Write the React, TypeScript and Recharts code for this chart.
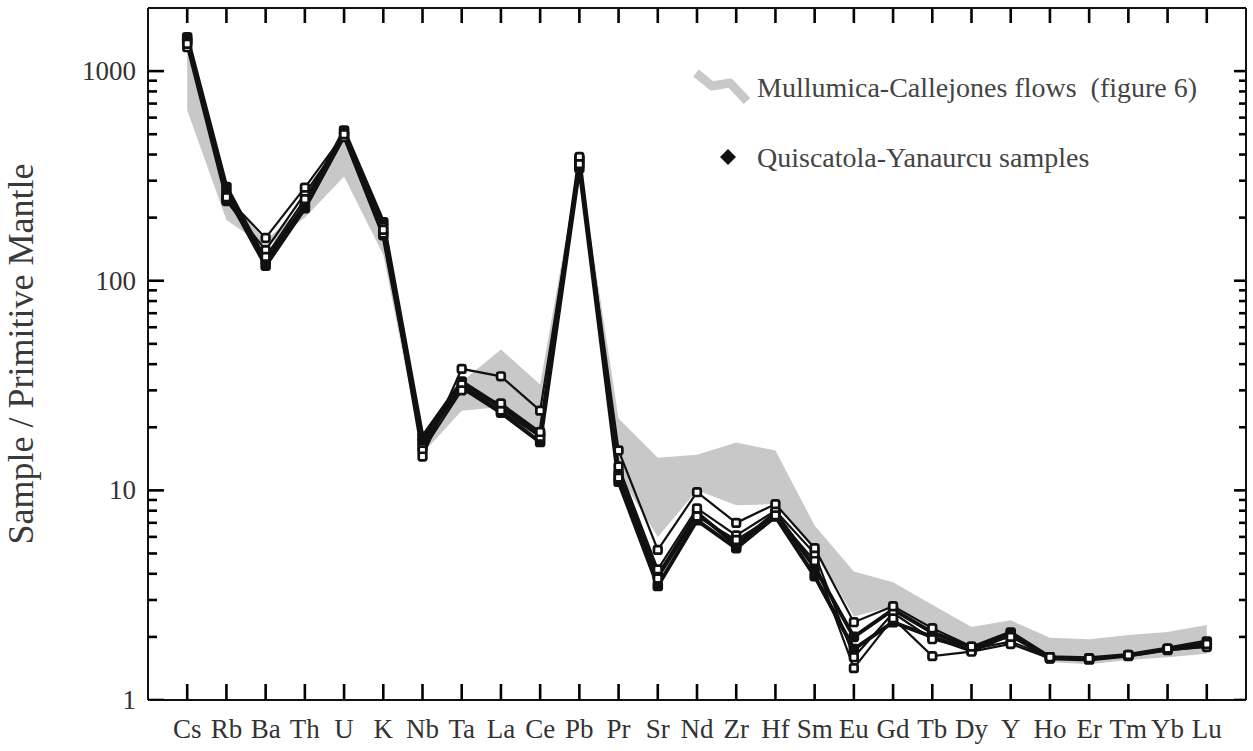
import React from 'react';
import { ComposedChart, Line, Area, Scatter, XAxis, YAxis } from 'recharts';

const elements = ['Cs','Rb','Ba','Th','U','K','Nb','Ta','La','Ce','Pb','Pr','Sr','Nd','Zr','Hf','Sm','Eu','Gd','Tb','Dy','Y','Ho','Er','Tm','Yb','Lu'];

// Mullumica-Callejones flows field (figure 6)
const bandLow  = [650, 195, 145, 200, 314, 133, 15, 24, 25, 19, 330, 12, 6.0, 10, 8.5, 8.6, 5.3, 2.5, 2.8, 2.2, 1.8, 2.0, 1.52, 1.48, 1.55, 1.6, 1.66];
const bandHigh = [1300, 250, 155, 230, 480, 170, 17, 33, 47, 32, 370, 22, 14.3, 14.8, 16.9, 15.5, 6.8, 4.1, 3.65, 2.85, 2.23, 2.4, 1.98, 1.95, 2.04, 2.11, 2.28];

// Quiscatola-Yanaurcu samples
const sampleA = [1350, 250, 160, 278, 500, 175, 14.5, 38, 35, 24, 360, 15.5, 5.2, 9.8, 7.0, 8.6, 5.3, 2.35, 2.8, 2.2, 1.8, 2.0, 1.6, 1.58, 1.64, 1.76, 1.85];
const sampleB = [1450, 280, 125, 230, 520, 190, 18, 33, 25, 18.5, 380, 12, 3.9, 7.8, 5.5, 7.8, 4.3, 2.0, 2.7, 2.1, 1.78, 2.1, 1.6, 1.58, 1.64, 1.76, 1.9];
const sampleC = [1400, 260, 118, 222, 490, 165, 17, 31, 23.5, 17, 345, 11, 3.5, 7.2, 5.3, 7.5, 3.9, 1.75, 2.35, 2.0, 1.72, 2.05, 1.58, 1.56, 1.63, 1.74, 1.82];
const sampleD = [1300, 240, 140, 260, 485, 168, 16, 32, 24, 18, 370, 13, 4.2, 8.2, 6.1, 8.0, 5.0, 1.6, 2.6, 1.95, 1.75, 1.9, 1.6, 1.57, 1.63, 1.75, 1.84];
const sampleE = [1380, 245, 130, 245, 510, 180, 15.5, 30, 26, 19, 390, 11.5, 3.8, 7.5, 5.8, 7.6, 4.6, 1.42, 2.45, 1.62, 1.7, 1.85, 1.58, 1.57, 1.62, 1.73, 1.79];

const Y_MIN = 1;
const Y_MAX = 2000;
const X_MIN = -1;
const X_MAX = 27;
const yTicks = [1,2,3,4,5,6,7,8,9,10,20,30,40,50,60,70,80,90,100,200,300,400,500,600,700,800,900,1000];
const yLabels = [1, 10, 100, 1000];
const xTicks = elements.map((_, i) => i);

const data = elements.map((el, i) => ({
  i,
  el,
  band: [bandLow[i], bandHigh[i]],
  a: sampleA[i],
  b: sampleB[i],
  c: sampleC[i],
  d: sampleD[i],
  e: sampleE[i],
}));

// inward tick marks on all four sides of the frame, placed through the chart scales
const frameTicks = [
  ...yTicks.map((v) => ({ i: X_MIN, v, side: 'L' })),
  ...yTicks.map((v) => ({ i: X_MAX, v, side: 'R' })),
  ...xTicks.map((i) => ({ i, v: Y_MIN, side: 'B' })),
  ...xTicks.map((i) => ({ i, v: Y_MAX, side: 'T' })),
];

const FONT = '"Liberation Serif", "Times New Roman", serif';
const INK = '#111111';

const W = 1253;
const H = 751;
const M = { top: 8, right: 7, bottom: 0, left: 0 };
const Y_AXIS_W = 148;
const X_AXIS_H = 51;

const squareDot = (filled: boolean) => (props: any) => {
  const { cx, cy, index } = props;
  if (cx == null || cy == null) return <g key={index} />;
  const s = filled ? 8.4 : 7.6;
  return (
    <rect key={index} x={cx - s / 2} y={cy - s / 2} width={s} height={s} rx={2}
      fill={filled ? INK : '#fff'} stroke={INK} strokeWidth={filled ? 2.2 : 2.7} />
  );
};

const isMajor = (v: number) => Math.abs(Math.log10(v) - Math.round(Math.log10(v))) < 1e-9;

const FrameTick = (props: any) => {
  const cx = Number(props.cx);
  const cy = Number(props.cy);
  const p = props.payload || {};
  const side = p.side;
  let x2 = cx;
  let y2 = cy;
  if (side === 'L') x2 = cx + (isMajor(p.v) ? 16 : 9);
  if (side === 'R') x2 = cx - (isMajor(p.v) ? 12 : 7);
  if (side === 'B') y2 = cy - 16;
  if (side === 'T') y2 = cy + 15;
  return <line x1={cx} y1={cy} x2={x2} y2={y2} stroke="#000000" strokeWidth={2.6} />;
};

const LeftTick = (props: any) => {
  const x = Number(props.x);
  const y = Number(props.y);
  const v = props.payload.value;
  if (!yLabels.includes(v)) return <g />;
  return (
    <text x={x - 12} y={y + 9} textAnchor="end" fontFamily={FONT} fontSize={27} fill="#333">{v}</text>
  );
};

const BottomTick = (props: any) => {
  const x = Number(props.x);
  const y = Number(props.y);
  return (
    <text x={x} y={y + 38} textAnchor="middle" fontFamily={FONT} fontSize={27} fill="#333">{elements[props.payload.value]}</text>
  );
};

const YTitle = () => (
  <text x={33} y={354} transform="rotate(-90 33 354)" textAnchor="middle" fontFamily={FONT} fontSize={36} fill="#3a3a3a">
    Sample / Primitive Mantle
  </text>
);

export default function App() {
  return (
    <div style={{ position: 'absolute', left: 0, top: 0, width: W, height: H, background: '#fff' }}>
      <ComposedChart width={W} height={H} data={data} margin={M}>
        <XAxis xAxisId="bottom" dataKey="i" type="number" domain={[X_MIN, X_MAX]} ticks={xTicks} interval={0}
          height={X_AXIS_H} tickSize={0} tickMargin={0} tickLine={false} tick={<BottomTick />}
          axisLine={{ stroke: INK, strokeWidth: 2 }} allowDataOverflow />
        <YAxis yAxisId="left" scale="log" type="number" domain={[Y_MIN, Y_MAX]} ticks={yTicks} interval={0}
          width={Y_AXIS_W} tickSize={0} tickMargin={0} tickLine={false} tick={<LeftTick />}
          axisLine={{ stroke: INK, strokeWidth: 2 }} allowDataOverflow
          label={{ content: () => <YTitle /> }} />
        <Area xAxisId="bottom" yAxisId="left" type="linear" dataKey="band" stroke="none" fill="#c8c8c8" fillOpacity={1}
          isAnimationActive={false} dot={false} activeDot={false} />
        <Line xAxisId="bottom" yAxisId="left" type="linear" dataKey="b" stroke={INK} strokeWidth={4}
          dot={squareDot(true)} isAnimationActive={false} />
        <Line xAxisId="bottom" yAxisId="left" type="linear" dataKey="c" stroke={INK} strokeWidth={4}
          dot={squareDot(true)} isAnimationActive={false} />
        <Line xAxisId="bottom" yAxisId="left" type="linear" dataKey="d" stroke={INK} strokeWidth={2.2}
          dot={squareDot(false)} isAnimationActive={false} />
        <Line xAxisId="bottom" yAxisId="left" type="linear" dataKey="e" stroke={INK} strokeWidth={2.2}
          dot={squareDot(false)} isAnimationActive={false} />
        <Line xAxisId="bottom" yAxisId="left" type="linear" dataKey="a" stroke={INK} strokeWidth={2.2}
          dot={squareDot(false)} isAnimationActive={false} />
        <Scatter xAxisId="bottom" yAxisId="left" data={frameTicks} dataKey="v" shape={<FrameTick />}
          isAnimationActive={false} />
      </ComposedChart>
      <svg width={W} height={H} style={{ position: 'absolute', left: 0, top: 0, pointerEvents: 'none' }}>
        <line x1={Y_AXIS_W} x2={W - M.right} y1={M.top} y2={M.top} stroke={INK} strokeWidth={2} />
        <line x1={W - M.right} x2={W - M.right} y1={M.top} y2={H - X_AXIS_H} stroke={INK} strokeWidth={2} />
        <polyline points="696,73 712,86 730,83 747,101" fill="none" stroke="#c8c8c8" strokeWidth={9} strokeLinejoin="round" />
        <text x={757} y={97} fontFamily={FONT} fontSize={28} fill="#444" style={{ whiteSpace: 'pre' }}>{'Mullumica-Callejones flows\u00A0 (figure 6)'}</text>
        <polygon points="728,149 736,157 728,165 720,157" fill={INK} />
        <text x={757} y={167} fontFamily={FONT} fontSize={28} fill="#444">Quiscatola-Yanaurcu samples</text>
      </svg>
    </div>
  );
}
